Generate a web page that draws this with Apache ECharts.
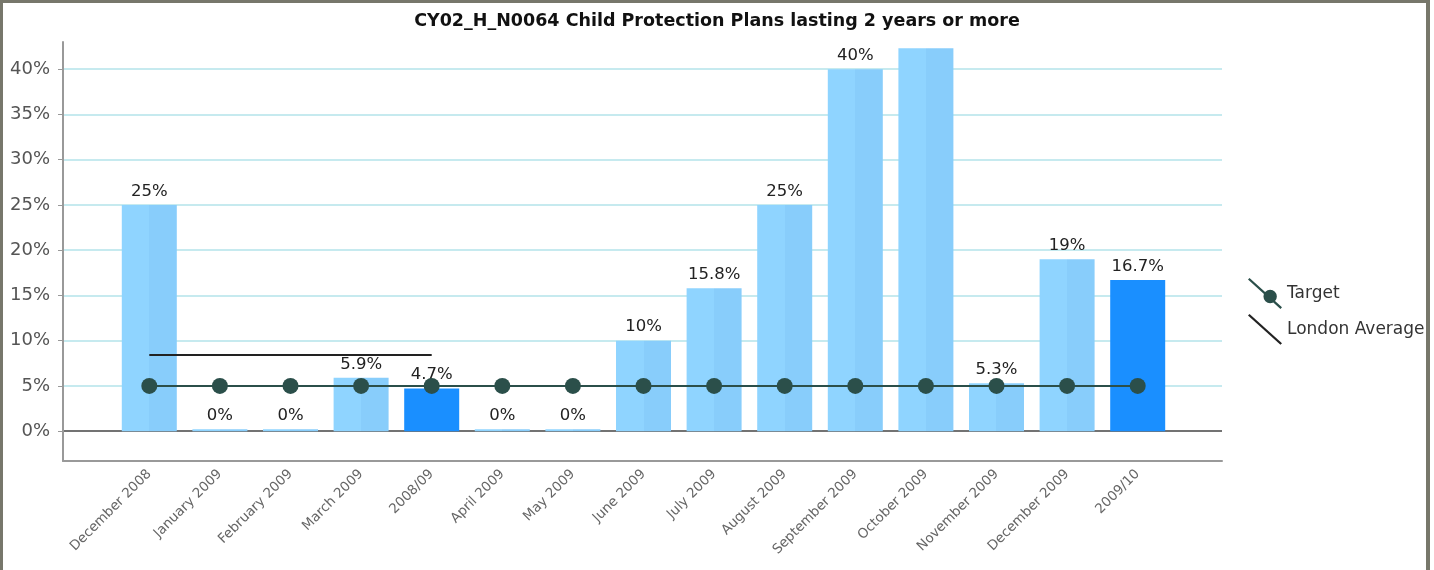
<!DOCTYPE html>
<html>
<head>
<meta charset="utf-8">
<script src="https://cdn.jsdelivr.net/npm/echarts@6/dist/echarts.min.js"></script>
<style>
  html, body { margin: 0; padding: 0; background: #fff; overflow: hidden; }
  #chart { width: 1434px; height: 570px; }
  #frame { position: absolute; left: 0; top: 0; width: 1423px; height: 600px;
           border: 3px solid #77776b; border-right-width: 4px; pointer-events: none; }
</style>
</head>
<body>
<div id="chart"></div>
<div id="frame"></div>
<script>
// categories along the x axis
const months = [
  'December 2008', 'January 2009', 'February 2009', 'March 2009', '2008/09',
  'April 2009', 'May 2009', 'June 2009', 'July 2009', 'August 2009',
  'September 2009', 'October 2009', 'November 2009', 'December 2009', '2009/10'
];
// bar values (%)
const actual = [25, 0, 0, 5.9, 4.7, 0, 0, 10, 15.8, 25, 40, 42.3, 5.3, 19, 16.7];
// the two yearly totals are drawn darker
const yearTotals = ['2008/09', '2009/10'];
// target line (%)
const target = [5, 5, 5, 5, 5, 5, 5, 5, 5, 5, 5, 5, 5, 5, 5];
// london average only for the 2008/09 period
const londonAvg = [8.4, 8.4, 8.4, 8.4, 8.4, null, null, null, null, null, null, null, null, null, null];
// y axis tick values
const yTicks = [0, 5, 10, 15, 20, 25, 30, 35, 40];

const chart = echarts.init(document.getElementById('chart'));
const font = 'DejaVu Sans';

const lightBar = {
  type: 'linear', x: 0, y: 0, x2: 1, y2: 0,
  colorStops: [
    { offset: 0, color: '#8fd4ff' }, { offset: 0.5, color: '#8fd4ff' },
    { offset: 0.5, color: '#88cdfb' }, { offset: 1, color: '#88cdfb' }
  ]
};

const barData = actual.map(function (v, i) {
  const item = { value: v };
  if (yearTotals.indexOf(months[i]) >= 0) item.itemStyle = { color: '#1a8fff' };
  // the tallest bar has no label in the original
  if (months[i] === 'October 2009') item.label = { show: false };
  return item;
});

const targetIcon = 'path://M0,1.5 L1.5,0 L33,28.5 L31.5,30 Z M28,18 A6.5,6.5 0 1 1 15,18 A6.5,6.5 0 1 1 28,18 Z';
const lineIcon = 'path://M0,1.5 L1.5,0 L33,28.5 L31.5,30 Z';

const option = {
  backgroundColor: '#fff',
  animation: false,
  title: {
    text: 'CY02_H_N0064 Child Protection Plans lasting 2 years or more',
    left: 'center',
    top: 7,
    textStyle: { fontFamily: font, fontSize: 17.5, fontWeight: 'bold', color: '#111' }
  },
  legend: {
    orient: 'vertical',
    left: 1243,
    top: 273,
    itemWidth: 34,
    itemHeight: 31,
    itemGap: 5,
    textStyle: { fontFamily: font, fontSize: 17, color: '#333' },
    data: [
      { name: 'Target', icon: targetIcon, itemStyle: { color: '#2b4f4a' } },
      { name: 'London Average', icon: lineIcon, itemStyle: { color: '#222' } }
    ]
  },
  grid: [
    // bars and lines
    { left: 114, right: 261, top: 42, bottom: 109 },
    // frame: y axis, grid lines, zero line and bottom axis
    { left: 63, right: 212, top: 42, bottom: 109 }
  ],
  xAxis: [
    {
      type: 'category',
      gridIndex: 0,
      data: months,
      axisLine: { show: false, onZero: false },
      axisTick: { show: false },
      axisLabel: { rotate: 45, margin: 11, fontFamily: font, fontSize: 13.5, color: '#666', interval: 0 }
    },
    {
      type: 'value',
      gridIndex: 1,
      min: 0, max: 1,
      axisLine: { show: true, onZero: false, lineStyle: { color: '#999', width: 2 } },
      axisTick: { show: false },
      axisLabel: { show: false },
      splitLine: { show: false }
    }
  ],
  yAxis: [
    { type: 'value', gridIndex: 0, min: -3.3, max: 43, show: false },
    {
      type: 'value',
      gridIndex: 1,
      min: -3.3, max: 43,
      axisLine: { show: true, onZero: false, lineStyle: { color: '#999', width: 2 } },
      axisTick: { show: true, customValues: yTicks, length: 5, lineStyle: { color: '#999' } },
      axisLabel: {
        customValues: yTicks, formatter: '{value}%', margin: 13,
        fontFamily: font, fontSize: 18, color: '#555'
      },
      splitLine: {
        show: true,
        lineStyle: { color: ['#444', '#b3e3ea', '#b3e3ea', '#b3e3ea', '#b3e3ea', '#b3e3ea', '#b3e3ea', '#b3e3ea', '#b3e3ea'], width: 1.5 }
      }
    }
  ],
  series: [
    {
      name: 'Actual',
      type: 'bar',
      xAxisIndex: 0, yAxisIndex: 0,
      data: barData,
      barWidth: 55,
      barMinHeight: 2,
      itemStyle: { color: lightBar },
      label: {
        show: true, position: 'top', distance: 5,
        formatter: '{c}%', fontFamily: font, fontSize: 16.5, color: '#222'
      },
      z: 2
    },
    {
      name: 'Target',
      type: 'line',
      xAxisIndex: 0, yAxisIndex: 0,
      data: target,
      symbol: 'circle',
      symbolSize: 16,
      itemStyle: { color: '#2b4f4a' },
      lineStyle: { color: '#2b4f4a', width: 2 },
      z: 4
    },
    {
      name: 'London Average',
      type: 'line',
      xAxisIndex: 0, yAxisIndex: 0,
      data: londonAvg,
      symbol: 'none',
      itemStyle: { color: '#222' },
      lineStyle: { color: '#222', width: 2 },
      z: 3
    }
  ]
};

chart.setOption(option);
</script>
</body>
</html>
